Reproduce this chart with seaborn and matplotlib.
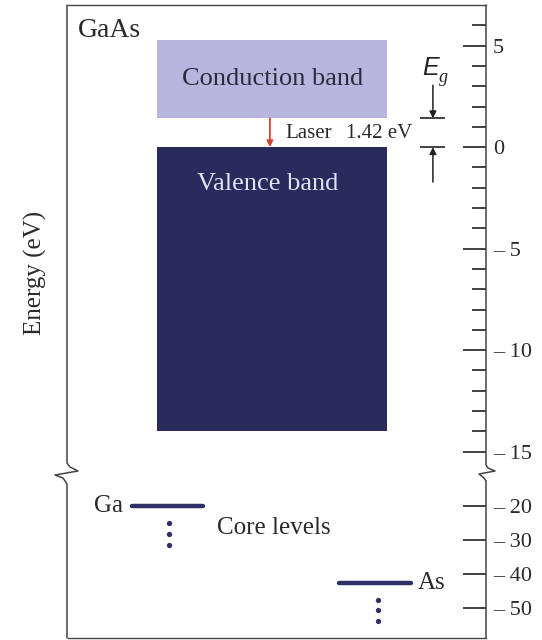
import numpy as np
import pandas as pd
import matplotlib
matplotlib.use("Agg")
import matplotlib.pyplot as plt
from matplotlib.lines import Line2D
import seaborn as sns

# ---------------- data ----------------
material = "GaAs"
band_names = ["Conduction band", "Valence band"]
band_top = [5.3, 0.0]
band_bottom = [1.42, -14.0]
gap_value = 1.42
gap_label = "1.42 eV"
laser_label = "Laser"
core_names = ["Ga", "As"]
core_energy = [-20.0, -42.5]
core_label = "Core levels"
upper_major_ticks = [5, 0, -5, -10, -15]
upper_tick_labels = ["5", "0", "\u2013 5", "\u2013 10", "\u2013 15"]
upper_minor_ticks = [6, 4, 3, 2, 1, -1, -2, -3, -4, -6, -7, -8, -9,
                     -11, -12, -13, -14]
lower_major_ticks = [-20, -30, -40, -50]
lower_tick_labels = ["\u2013 20", "\u2013 30", "\u2013 40", "\u2013 50"]
ylabel = "Energy (eV)"

# ---------------- style ----------------
sns.set_style("white")
plt.rcParams["font.family"] = ["Liberation Serif", "DejaVu Serif"]
TXT = "#2a2a2a"
LIGHT = "#b8b6df"
DARK = "#282b5b"
NAVY = "#2e2f66"
RED = "#d4412f"

W, H = 542, 640
fig = plt.figure(figsize=(W / 100, H / 100), dpi=100)
fig.patch.set_facecolor("white")


def fx(px):
    return px / W


def fy(py):
    return 1 - py / H


ax1 = fig.add_axes([fx(68), fy(472), (486 - 68) / W, (472 - 5) / H])
ax2 = fig.add_axes([fx(68), fy(638), (486 - 68) / W, (638 - 472) / H])
for ax in (ax1, ax2):
    ax.set_facecolor("none")
    ax.set_xlim(0, 1)
    ax.set_xticks([])
    ax.yaxis.tick_right()
    for s in ("left", "right"):
        ax.spines[s].set_visible(False)
    ax.tick_params(axis="y", which="major", direction="in", length=16.5,
                   width=1.3, color="#333333", pad=5, labelsize=16,
                   labelcolor=TXT, right=True, left=False)
    ax.tick_params(axis="y", which="minor", direction="in", length=10,
                   width=1.3, color="#333333", right=True, left=False)

ax1.spines["bottom"].set_visible(False)
ax1.spines["top"].set_color("#444444")
ax1.spines["top"].set_linewidth(1.0)
ax2.spines["top"].set_visible(False)
ax2.spines["bottom"].set_color("#444444")
ax2.spines["bottom"].set_linewidth(1.0)

ax1.set_ylim(-16.0, 7.0)
ax2.set_ylim(-58.8, -10.0)
ax1.set_yticks(upper_major_ticks)
ax1.set_yticklabels(upper_tick_labels)
ax1.set_yticks(upper_minor_ticks, minor=True)
ax2.set_yticks(lower_major_ticks)
ax2.set_yticklabels(lower_tick_labels)

# ---------------- bands ----------------
band_x = 0.488
band_w = 0.550
heights = [t - b for t, b in zip(band_top, band_bottom)]
ax1.bar([band_x] * len(band_names), heights, bottom=band_bottom,
        width=band_w, color=[LIGHT, DARK], linewidth=0, zorder=1)
ax1.text(band_x + 0.002, (band_top[0] + band_bottom[0]) / 2, band_names[0],
         ha="center", va="center", fontsize=19, color="#2b2b3b", zorder=3)
ax1.text(band_x - 0.01, band_top[1] - 1.8, band_names[1],
         ha="center", va="center", fontsize=19, color="#e2e2f4", zorder=3)

# laser arrow
ax1.annotate("", xy=(0.483, band_top[1]), xytext=(0.483, band_bottom[0]),
             arrowprops=dict(arrowstyle="-|>", color=RED, lw=1.3,
                             mutation_scale=9, shrinkA=0, shrinkB=0),
             zorder=4)
ax1.text(0.519, 0.44, laser_label, ha="left", va="baseline",
         fontsize=15, color=TXT)
ax1.text(0.665, 0.44, gap_label, ha="left", va="baseline",
         fontsize=15, color=TXT)

# Eg marker
ax1.hlines([gap_value, 0.0], 0.842, 0.902, color="#222222", lw=1.2)
ax1.annotate("", xy=(0.873, gap_value), xytext=(0.873, gap_value + 1.63),
             arrowprops=dict(arrowstyle="-|>", color="#222222", lw=1.1,
                             mutation_scale=10, shrinkA=0, shrinkB=0))
ax1.annotate("", xy=(0.873, 0.0), xytext=(0.873, -1.72),
             arrowprops=dict(arrowstyle="-|>", color="#222222", lw=1.1,
                             mutation_scale=10, shrinkA=0, shrinkB=0))
ax1.text(0.847, 3.55, "E", ha="left", va="baseline", fontsize=18,
         fontstyle="italic", family=["Liberation Sans", "DejaVu Sans"],
         color="#222222")
ax1.text(0.888, 3.2, "g", ha="left", va="baseline", fontsize=13,
         fontstyle="italic", color="#222222")

# ---------------- core levels ----------------
core_x0 = [0.153, 0.648]
core_x1 = [0.323, 0.821]
rows = []
for n, e, a, b in zip(core_names, core_energy, core_x0, core_x1):
    rows.append({"element": n, "x": a, "E": e})
    rows.append({"element": n, "x": b, "E": e})
df = pd.DataFrame(rows)
sns.lineplot(data=df, x="x", y="E", units="element", estimator=None,
             color=NAVY, lw=3.2, ax=ax2, legend=False)
ax2.set_xlabel("")
ax2.set_ylabel("")
ax2.set_xlim(0, 1)
ax2.set_xticks([])

dot_x = [0.242, 0.742]
for e, xd in zip(core_energy, dot_x):
    ax2.plot([xd] * 3, [e - 5.0, e - 8.2, e - 11.4], "o", color=NAVY,
             ms=3.8, mec="none")
ax2.text(0.132, core_energy[0], core_names[0], ha="right", va="center",
         fontsize=18, color=TXT)
ax2.text(0.837, core_energy[1], core_names[1], ha="left", va="center",
         fontsize=18, color=TXT)
ax2.text(0.356, -26.5, core_label, ha="left", va="center", fontsize=18,
         color=TXT)

# ---------------- frame with breaks ----------------
def brace(xs):
    pts = [(xs, 5), (xs, 463), (xs + 3, 467), (xs + 11, 471),
           (xs - 12, 475), (xs - 4, 478), (xs, 484), (xs, 638)]
    return [fx(p[0]) for p in pts], [fy(p[1]) for p in pts]


bx, by = brace(67)
fig.add_artist(Line2D(bx, by, transform=fig.transFigure, color="#444444",
                      lw=1.1, solid_joinstyle="round"))
rpts = [(486, 5), (486, 465), (488, 468), (495, 471), (479, 474),
        (484, 478), (486, 481), (486, 638)]
fig.add_artist(Line2D([fx(p[0]) for p in rpts], [fy(p[1]) for p in rpts],
                      transform=fig.transFigure, color="#444444", lw=1.1,
                      solid_joinstyle="round"))

fig.text(fx(78), fy(37), material, ha="left", va="baseline", fontsize=20,
         color=TXT)
fig.text(fx(35), fy(273), ylabel, ha="center", va="center", rotation=90,
         fontsize=18, color=TXT)

fig.savefig("out.png", dpi=100, facecolor="white")
